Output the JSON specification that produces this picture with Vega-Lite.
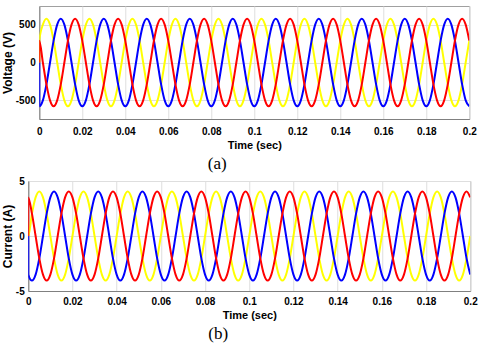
{
"$schema": "https://vega.github.io/schema/vega-lite/v6.json",
"background": "white",
"padding": {"left": 0, "top": 5, "right": 0, "bottom": 2},
"config": {
  "font": "Liberation Sans",
  "view": {"stroke": "#a0a0a0", "strokeWidth": 1},
  "axis": {"labelFont": "Liberation Sans", "labelFontWeight": "bold", "labelFontSize": 10, "labelColor": "#000000", "titleFont": "Liberation Sans", "titleFontWeight": "bold", "titleColor": "#000000", "ticks": false, "domainColor": "#808080", "gridColor": "#dedede", "labelFlush": false},
  "axisX": {"titleFontSize": 11, "titlePadding": 3},
  "axisY": {"titleFontSize": 12, "titlePadding": 1, "labelPadding": 4},
  "title": {"font": "Liberation Serif", "fontSize": 17, "fontWeight": "normal", "color": "#000000"}
},
"data": {"values": [
{"t":0,"va":0,"vb":0,"vc":0,"ia":0,"ib":0,"ic":0},
{"t":0.00001,"va":290,"vb":-580,"vc":290,"ia":0,"ib":-3.51,"ic":3.51},
{"t":0.00167,"va":502,"vb":-502,"vc":0,"ia":2.03,"ib":-4.05,"ic":2.03},
{"t":0.00333,"va":580,"vb":-290,"vc":-290,"ia":3.51,"ib":-3.51,"ic":0},
{"t":0.005,"va":502,"vb":0,"vc":-502,"ia":4.05,"ib":-2.03,"ic":-2.03},
{"t":0.00667,"va":290,"vb":290,"vc":-580,"ia":3.51,"ib":0,"ic":-3.51},
{"t":0.00833,"va":0,"vb":502,"vc":-502,"ia":2.03,"ib":2.03,"ic":-4.05},
{"t":0.01,"va":-290,"vb":580,"vc":-290,"ia":0,"ib":3.51,"ic":-3.51},
{"t":0.01167,"va":-502,"vb":502,"vc":0,"ia":-2.03,"ib":4.05,"ic":-2.03},
{"t":0.01333,"va":-580,"vb":290,"vc":290,"ia":-3.51,"ib":3.51,"ic":0},
{"t":0.015,"va":-502,"vb":0,"vc":502,"ia":-4.05,"ib":2.03,"ic":2.03},
{"t":0.01667,"va":-290,"vb":-290,"vc":580,"ia":-3.51,"ib":0,"ic":3.51},
{"t":0.01833,"va":0,"vb":-502,"vc":502,"ia":-2.03,"ib":-2.03,"ic":4.05},
{"t":0.02,"va":290,"vb":-580,"vc":290,"ia":0,"ib":-3.51,"ic":3.51},
{"t":0.02167,"va":502,"vb":-502,"vc":0,"ia":2.03,"ib":-4.05,"ic":2.03},
{"t":0.02333,"va":580,"vb":-290,"vc":-290,"ia":3.51,"ib":-3.51,"ic":0},
{"t":0.025,"va":502,"vb":0,"vc":-502,"ia":4.05,"ib":-2.03,"ic":-2.03},
{"t":0.02667,"va":290,"vb":290,"vc":-580,"ia":3.51,"ib":0,"ic":-3.51},
{"t":0.02833,"va":0,"vb":502,"vc":-502,"ia":2.03,"ib":2.03,"ic":-4.05},
{"t":0.03,"va":-290,"vb":580,"vc":-290,"ia":0,"ib":3.51,"ic":-3.51},
{"t":0.03167,"va":-502,"vb":502,"vc":0,"ia":-2.03,"ib":4.05,"ic":-2.03},
{"t":0.03333,"va":-580,"vb":290,"vc":290,"ia":-3.51,"ib":3.51,"ic":0},
{"t":0.035,"va":-502,"vb":0,"vc":502,"ia":-4.05,"ib":2.03,"ic":2.03},
{"t":0.03667,"va":-290,"vb":-290,"vc":580,"ia":-3.51,"ib":0,"ic":3.51},
{"t":0.03833,"va":0,"vb":-502,"vc":502,"ia":-2.03,"ib":-2.03,"ic":4.05},
{"t":0.04,"va":290,"vb":-580,"vc":290,"ia":0,"ib":-3.51,"ic":3.51},
{"t":0.04167,"va":502,"vb":-502,"vc":0,"ia":2.03,"ib":-4.05,"ic":2.03},
{"t":0.04333,"va":580,"vb":-290,"vc":-290,"ia":3.51,"ib":-3.51,"ic":0},
{"t":0.045,"va":502,"vb":0,"vc":-502,"ia":4.05,"ib":-2.03,"ic":-2.03},
{"t":0.04667,"va":290,"vb":290,"vc":-580,"ia":3.51,"ib":0,"ic":-3.51},
{"t":0.04833,"va":0,"vb":502,"vc":-502,"ia":2.03,"ib":2.03,"ic":-4.05},
{"t":0.05,"va":-290,"vb":580,"vc":-290,"ia":0,"ib":3.51,"ic":-3.51},
{"t":0.05167,"va":-502,"vb":502,"vc":0,"ia":-2.03,"ib":4.05,"ic":-2.03},
{"t":0.05333,"va":-580,"vb":290,"vc":290,"ia":-3.51,"ib":3.51,"ic":0},
{"t":0.055,"va":-502,"vb":0,"vc":502,"ia":-4.05,"ib":2.03,"ic":2.03},
{"t":0.05667,"va":-290,"vb":-290,"vc":580,"ia":-3.51,"ib":0,"ic":3.51},
{"t":0.05833,"va":0,"vb":-502,"vc":502,"ia":-2.03,"ib":-2.03,"ic":4.05},
{"t":0.06,"va":290,"vb":-580,"vc":290,"ia":0,"ib":-3.51,"ic":3.51},
{"t":0.06167,"va":502,"vb":-502,"vc":0,"ia":2.03,"ib":-4.05,"ic":2.03},
{"t":0.06333,"va":580,"vb":-290,"vc":-290,"ia":3.51,"ib":-3.51,"ic":0},
{"t":0.065,"va":502,"vb":0,"vc":-502,"ia":4.05,"ib":-2.03,"ic":-2.03},
{"t":0.06667,"va":290,"vb":290,"vc":-580,"ia":3.51,"ib":0,"ic":-3.51},
{"t":0.06833,"va":0,"vb":502,"vc":-502,"ia":2.03,"ib":2.03,"ic":-4.05},
{"t":0.07,"va":-290,"vb":580,"vc":-290,"ia":0,"ib":3.51,"ic":-3.51},
{"t":0.07167,"va":-502,"vb":502,"vc":0,"ia":-2.03,"ib":4.05,"ic":-2.03},
{"t":0.07333,"va":-580,"vb":290,"vc":290,"ia":-3.51,"ib":3.51,"ic":0},
{"t":0.075,"va":-502,"vb":0,"vc":502,"ia":-4.05,"ib":2.03,"ic":2.03},
{"t":0.07667,"va":-290,"vb":-290,"vc":580,"ia":-3.51,"ib":0,"ic":3.51},
{"t":0.07833,"va":0,"vb":-502,"vc":502,"ia":-2.03,"ib":-2.03,"ic":4.05},
{"t":0.08,"va":290,"vb":-580,"vc":290,"ia":0,"ib":-3.51,"ic":3.51},
{"t":0.08167,"va":502,"vb":-502,"vc":0,"ia":2.03,"ib":-4.05,"ic":2.03},
{"t":0.08333,"va":580,"vb":-290,"vc":-290,"ia":3.51,"ib":-3.51,"ic":0},
{"t":0.085,"va":502,"vb":0,"vc":-502,"ia":4.05,"ib":-2.03,"ic":-2.03},
{"t":0.08667,"va":290,"vb":290,"vc":-580,"ia":3.51,"ib":0,"ic":-3.51},
{"t":0.08833,"va":0,"vb":502,"vc":-502,"ia":2.03,"ib":2.03,"ic":-4.05},
{"t":0.09,"va":-290,"vb":580,"vc":-290,"ia":0,"ib":3.51,"ic":-3.51},
{"t":0.09167,"va":-502,"vb":502,"vc":0,"ia":-2.03,"ib":4.05,"ic":-2.03},
{"t":0.09333,"va":-580,"vb":290,"vc":290,"ia":-3.51,"ib":3.51,"ic":0},
{"t":0.095,"va":-502,"vb":0,"vc":502,"ia":-4.05,"ib":2.03,"ic":2.03},
{"t":0.09667,"va":-290,"vb":-290,"vc":580,"ia":-3.51,"ib":0,"ic":3.51},
{"t":0.09833,"va":0,"vb":-502,"vc":502,"ia":-2.03,"ib":-2.03,"ic":4.05},
{"t":0.1,"va":290,"vb":-580,"vc":290,"ia":0,"ib":-3.51,"ic":3.51},
{"t":0.10167,"va":502,"vb":-502,"vc":0,"ia":2.03,"ib":-4.05,"ic":2.03},
{"t":0.10333,"va":580,"vb":-290,"vc":-290,"ia":3.51,"ib":-3.51,"ic":0},
{"t":0.105,"va":502,"vb":0,"vc":-502,"ia":4.05,"ib":-2.03,"ic":-2.03},
{"t":0.10667,"va":290,"vb":290,"vc":-580,"ia":3.51,"ib":0,"ic":-3.51},
{"t":0.10833,"va":0,"vb":502,"vc":-502,"ia":2.03,"ib":2.03,"ic":-4.05},
{"t":0.11,"va":-290,"vb":580,"vc":-290,"ia":0,"ib":3.51,"ic":-3.51},
{"t":0.11167,"va":-502,"vb":502,"vc":0,"ia":-2.03,"ib":4.05,"ic":-2.03},
{"t":0.11333,"va":-580,"vb":290,"vc":290,"ia":-3.51,"ib":3.51,"ic":0},
{"t":0.115,"va":-502,"vb":0,"vc":502,"ia":-4.05,"ib":2.03,"ic":2.03},
{"t":0.11667,"va":-290,"vb":-290,"vc":580,"ia":-3.51,"ib":0,"ic":3.51},
{"t":0.11833,"va":0,"vb":-502,"vc":502,"ia":-2.03,"ib":-2.03,"ic":4.05},
{"t":0.12,"va":290,"vb":-580,"vc":290,"ia":0,"ib":-3.51,"ic":3.51},
{"t":0.12167,"va":502,"vb":-502,"vc":0,"ia":2.03,"ib":-4.05,"ic":2.03},
{"t":0.12333,"va":580,"vb":-290,"vc":-290,"ia":3.51,"ib":-3.51,"ic":0},
{"t":0.125,"va":502,"vb":0,"vc":-502,"ia":4.05,"ib":-2.03,"ic":-2.03},
{"t":0.12667,"va":290,"vb":290,"vc":-580,"ia":3.51,"ib":0,"ic":-3.51},
{"t":0.12833,"va":0,"vb":502,"vc":-502,"ia":2.03,"ib":2.03,"ic":-4.05},
{"t":0.13,"va":-290,"vb":580,"vc":-290,"ia":0,"ib":3.51,"ic":-3.51},
{"t":0.13167,"va":-502,"vb":502,"vc":0,"ia":-2.03,"ib":4.05,"ic":-2.03},
{"t":0.13333,"va":-580,"vb":290,"vc":290,"ia":-3.51,"ib":3.51,"ic":0},
{"t":0.135,"va":-502,"vb":0,"vc":502,"ia":-4.05,"ib":2.03,"ic":2.03},
{"t":0.13667,"va":-290,"vb":-290,"vc":580,"ia":-3.51,"ib":0,"ic":3.51},
{"t":0.13833,"va":0,"vb":-502,"vc":502,"ia":-2.03,"ib":-2.03,"ic":4.05},
{"t":0.14,"va":290,"vb":-580,"vc":290,"ia":0,"ib":-3.51,"ic":3.51},
{"t":0.14167,"va":502,"vb":-502,"vc":0,"ia":2.03,"ib":-4.05,"ic":2.03},
{"t":0.14333,"va":580,"vb":-290,"vc":-290,"ia":3.51,"ib":-3.51,"ic":0},
{"t":0.145,"va":502,"vb":0,"vc":-502,"ia":4.05,"ib":-2.03,"ic":-2.03},
{"t":0.14667,"va":290,"vb":290,"vc":-580,"ia":3.51,"ib":0,"ic":-3.51},
{"t":0.14833,"va":0,"vb":502,"vc":-502,"ia":2.03,"ib":2.03,"ic":-4.05},
{"t":0.15,"va":-290,"vb":580,"vc":-290,"ia":0,"ib":3.51,"ic":-3.51},
{"t":0.15167,"va":-502,"vb":502,"vc":0,"ia":-2.03,"ib":4.05,"ic":-2.03},
{"t":0.15333,"va":-580,"vb":290,"vc":290,"ia":-3.51,"ib":3.51,"ic":0},
{"t":0.155,"va":-502,"vb":0,"vc":502,"ia":-4.05,"ib":2.03,"ic":2.03},
{"t":0.15667,"va":-290,"vb":-290,"vc":580,"ia":-3.51,"ib":0,"ic":3.51},
{"t":0.15833,"va":0,"vb":-502,"vc":502,"ia":-2.03,"ib":-2.03,"ic":4.05},
{"t":0.16,"va":290,"vb":-580,"vc":290,"ia":0,"ib":-3.51,"ic":3.51},
{"t":0.16167,"va":502,"vb":-502,"vc":0,"ia":2.03,"ib":-4.05,"ic":2.03},
{"t":0.16333,"va":580,"vb":-290,"vc":-290,"ia":3.51,"ib":-3.51,"ic":0},
{"t":0.165,"va":502,"vb":0,"vc":-502,"ia":4.05,"ib":-2.03,"ic":-2.03},
{"t":0.16667,"va":290,"vb":290,"vc":-580,"ia":3.51,"ib":0,"ic":-3.51},
{"t":0.16833,"va":0,"vb":502,"vc":-502,"ia":2.03,"ib":2.03,"ic":-4.05},
{"t":0.17,"va":-290,"vb":580,"vc":-290,"ia":0,"ib":3.51,"ic":-3.51},
{"t":0.17167,"va":-502,"vb":502,"vc":0,"ia":-2.03,"ib":4.05,"ic":-2.03},
{"t":0.17333,"va":-580,"vb":290,"vc":290,"ia":-3.51,"ib":3.51,"ic":0},
{"t":0.175,"va":-502,"vb":0,"vc":502,"ia":-4.05,"ib":2.03,"ic":2.03},
{"t":0.17667,"va":-290,"vb":-290,"vc":580,"ia":-3.51,"ib":0,"ic":3.51},
{"t":0.17833,"va":0,"vb":-502,"vc":502,"ia":-2.03,"ib":-2.03,"ic":4.05},
{"t":0.18,"va":290,"vb":-580,"vc":290,"ia":0,"ib":-3.51,"ic":3.51},
{"t":0.18167,"va":502,"vb":-502,"vc":0,"ia":2.03,"ib":-4.05,"ic":2.03},
{"t":0.18333,"va":580,"vb":-290,"vc":-290,"ia":3.51,"ib":-3.51,"ic":0},
{"t":0.185,"va":502,"vb":0,"vc":-502,"ia":4.05,"ib":-2.03,"ic":-2.03},
{"t":0.18667,"va":290,"vb":290,"vc":-580,"ia":3.51,"ib":0,"ic":-3.51},
{"t":0.18833,"va":0,"vb":502,"vc":-502,"ia":2.03,"ib":2.03,"ic":-4.05},
{"t":0.19,"va":-290,"vb":580,"vc":-290,"ia":0,"ib":3.51,"ic":-3.51},
{"t":0.19167,"va":-502,"vb":502,"vc":0,"ia":-2.03,"ib":4.05,"ic":-2.03},
{"t":0.19333,"va":-580,"vb":290,"vc":290,"ia":-3.51,"ib":3.51,"ic":0},
{"t":0.195,"va":-502,"vb":0,"vc":502,"ia":-4.05,"ib":2.03,"ic":2.03},
{"t":0.19667,"va":-290,"vb":-290,"vc":580,"ia":-3.51,"ib":0,"ic":3.51},
{"t":0.19833,"va":0,"vb":-502,"vc":502,"ia":-2.03,"ib":-2.03,"ic":4.05},
{"t":0.2,"va":290,"vb":-580,"vc":290,"ia":0,"ib":-3.51,"ic":3.51}
]},
"columns": 1,
"center": true,
"spacing": 2,
"concat": [
  {
    "width": 430, "height": 113,
    "title": {"text": "(a)", "orient": "bottom", "anchor": "middle", "frame": "group", "dx": -37, "offset": 6},
    "transform": [{"fold": ["va", "vb", "vc"], "as": ["phase", "value"]}],
    "mark": {"type": "line", "interpolate": "monotone", "strokeWidth": 2, "clip": true},
    "encoding": {
      "x": {"field": "t", "type": "quantitative", "scale": {"domain": [0, 0.2], "nice": false},
            "axis": {"title": "Time (sec)", "values": [0, 0.02, 0.04, 0.06, 0.08, 0.1, 0.12, 0.14, 0.16, 0.18, 0.2], "labelExpr": "'' + datum.value", "labelPadding": 7, "grid": true}},
      "y": {"field": "value", "type": "quantitative", "scale": {"domain": [-750, 750], "nice": false},
            "axis": {"title": "Voltage (V)", "values": [-500, 0, 500], "labelExpr": "'' + datum.value", "grid": true}},
      "color": {"field": "phase", "type": "nominal", "scale": {"domain": ["va", "vb", "vc"], "range": ["#ffff00", "#0000ff", "#ff0000"]}, "legend": null}
    }
  },
  {
    "width": 442, "height": 110,
    "title": {"text": "(b)", "orient": "bottom", "anchor": "middle", "frame": "group", "dx": -31, "offset": 6},
    "transform": [{"fold": ["ia", "ib", "ic"], "as": ["phase", "value"]}],
    "layer": [
      {
        "mark": {"type": "line", "interpolate": "monotone", "strokeWidth": 2, "clip": true},
        "encoding": {
          "x": {"field": "t", "type": "quantitative", "scale": {"domain": [0, 0.2], "nice": false},
                "axis": {"title": "Time (sec)", "values": [0, 0.02, 0.04, 0.06, 0.08, 0.1, 0.12, 0.14, 0.16, 0.18, 0.2], "labelExpr": "'' + datum.value", "labelPadding": 5, "grid": true}},
          "y": {"field": "value", "type": "quantitative", "scale": {"domain": [-5, 5], "nice": false},
                "axis": {"title": "Current (A)", "values": [-5, 0, 5], "labelExpr": "'' + datum.value", "grid": true}},
          "color": {"field": "phase", "type": "nominal", "scale": {"domain": ["ia", "ib", "ic"], "range": ["#ffff00", "#0000ff", "#ff0000"]}, "legend": null}
        }
      },
      {
        "mark": {"type": "rule", "opacity": 0},
        "encoding": {
          "y": {"datum": 0, "type": "quantitative", "scale": {"domain": [-5, 5], "nice": false},
                "axis": {"orient": "right", "labels": false, "ticks": false, "domain": false, "grid": false, "title": null, "minExtent": 17, "maxExtent": 17}}
        }
      }
    ],
    "resolve": {"scale": {"y": "independent"}, "axis": {"y": "independent"}}
  }
]
}
